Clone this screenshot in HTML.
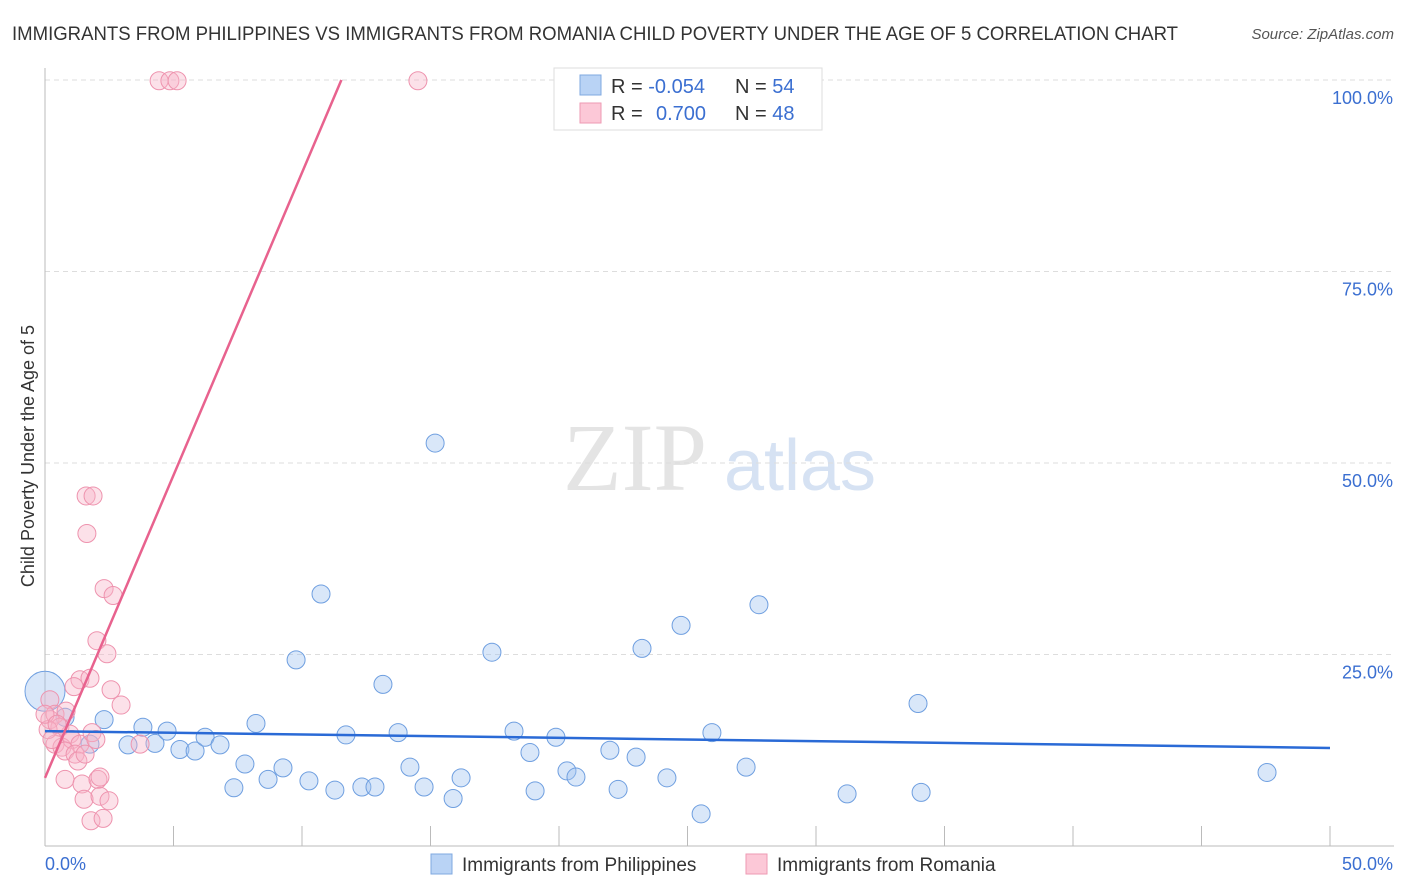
<!DOCTYPE html>
<html><head><meta charset="utf-8"><style>
body{margin:0;background:#fff;font-family:"Liberation Sans",sans-serif;}
svg{display:block}
</style></head><body>
<svg width="1406" height="892" viewBox="0 0 1406 892">
<text x="12" y="40" font-size="19" fill="#333" textLength="1166" lengthAdjust="spacingAndGlyphs">IMMIGRANTS FROM PHILIPPINES VS IMMIGRANTS FROM ROMANIA CHILD POVERTY UNDER THE AGE OF 5 CORRELATION CHART</text>
<text x="1394" y="39" font-size="15" fill="#555" font-style="italic" text-anchor="end">Source: ZipAtlas.com</text>
<g>
<text x="635" y="490" font-size="96" fill="#e4e4e4" font-family="Liberation Serif,serif" text-anchor="middle">ZIP</text>
<text x="800" y="490" font-size="72" fill="#d6e2f3" text-anchor="middle">atlas</text>
</g>
<g id="grid"></g>
<g id="axes"></g>
<g id="marks"></g>
<text x="34" y="456" font-size="18" fill="#333" text-anchor="middle" transform="rotate(-90 34 456)">Child Poverty Under the Age of 5</text>
<g>
<rect x="554" y="68" width="268" height="62" fill="#fff" stroke="#ddd"/>
<rect x="580" y="75" width="21" height="20" fill="#b9d3f5" stroke="#7fa8e0"/>
<rect x="580" y="103" width="21" height="20" fill="#fcc8d7" stroke="#ee9ab3"/>
<text x="611" y="93" font-size="20" fill="#333">R = <tspan fill="#3b6fd1">-0.054</tspan><tspan x="735">N = </tspan><tspan fill="#3b6fd1">54</tspan></text>
<text x="611" y="120" font-size="20" fill="#333">R = <tspan x="656" fill="#3b6fd1">0.700</tspan><tspan x="735">N = </tspan><tspan fill="#3b6fd1">48</tspan></text>
</g>
<g>
<rect x="431" y="854" width="21" height="20" fill="#b9d3f5" stroke="#7fa8e0"/>
<text x="462" y="871" font-size="19" fill="#333">Immigrants from Philippines</text>
<rect x="746" y="854" width="21" height="20" fill="#fcc8d7" stroke="#ee9ab3"/>
<text x="777" y="871" font-size="19" fill="#333">Immigrants from Romania</text>
</g>
</svg>
<script>
const blueX=[0,0.78,2.30,1.75,3.23,3.81,4.28,4.75,5.25,5.84,6.23,6.81,7.35,7.78,8.21,8.68,9.26,9.77,10.27,10.74,11.28,11.71,12.33,12.84,13.15,13.74,14.20,14.75,15.18,15.88,16.19,17.39,18.25,18.87,19.07,19.88,20.31,20.66,21.98,22.30,23.00,23.23,24.20,24.75,25.53,25.95,27.28,27.78,31.21,33.97,34.09,47.55];
const blueY=[20.2,16.8,16.5,13.3,13.2,15.5,13.4,15.0,12.6,12.4,14.2,13.2,7.6,10.7,16.0,8.7,10.2,24.3,8.5,32.9,7.3,14.5,7.7,7.7,21.1,14.8,10.3,7.7,52.6,6.2,8.9,25.3,15.0,12.2,7.2,14.2,9.8,9.0,12.5,7.4,11.6,25.8,8.9,28.8,4.2,14.8,10.3,31.5,6.8,18.6,7.0,9.6];
const pinkX=[4.44,4.86,5.14,14.51,1.60,1.87,1.63,2.30,2.65,2.02,2.41,1.36,1.13,1.75,2.57,2.96,0.19,0.19,0.39,0.82,0.58,0.97,0.39,0.66,1.05,1.36,1.83,1.98,0.78,1.17,1.28,0.12,3.70,0.78,1.44,2.06,2.14,1.52,2.14,2.49,1.79,2.26,0.27,0,0.47,1.56];
const pinkY=[99.9,99.9,99.9,99.9,45.7,45.7,40.8,33.6,32.7,26.8,25.1,21.7,20.8,21.9,20.4,18.4,19.1,16.5,17.2,17.6,15.5,14.6,13.3,12.9,13.9,13.3,14.8,13.9,12.4,12.0,11.1,15.2,13.3,8.7,8.1,8.7,9.0,6.1,6.5,5.9,3.3,3.6,13.9,17.2,15.9,12.0];
const blueTrend=[15.0,12.8];
const pinkTrend=[8.9,7.9];
const yTicks=[25,50,75,100];
const yTickLabels=["25.0%","50.0%","75.0%","100.0%"];
const xTicks=[0,5,10,15,20,25,30,35,40,45,50];

const NS="http://www.w3.org/2000/svg";
const X0=45,X1=1330,Y0=846,Y100=80;
const sx=v=>X0+(X1-X0)*v/50;
const sy=v=>Y0-(Y0-Y100)*v/100;
function mk(t,a,p){const e=document.createElementNS(NS,t);for(const k in a)e.setAttribute(k,a[k]);p.appendChild(e);return e;}
const grid=document.getElementById('grid'),axes=document.getElementById('axes'),marks=document.getElementById('marks');
yTicks.forEach((t,i)=>{
 const l=mk('line',{x1:X0,x2:1394,y1:sy(t),y2:sy(t),stroke:'#ddd','stroke-dasharray':'5,4'},grid);
 
 
 const tx=mk('text',{x:1393,y:sy(t)+24,'font-size':18,fill:'#3b6fd1','text-anchor':'end'},axes);
 tx.textContent=yTickLabels[i];
 
 
});
const ya=mk('line',{x1:X0,x2:X0,y1:68,y2:Y0,stroke:'#bbb'},axes);


const xa=mk('line',{x1:X0,x2:1394,y1:Y0,y2:Y0,stroke:'#bbb'},axes);


xTicks.forEach(t=>{
 const l=mk('line',{x1:sx(t),x2:sx(t),y1:826,y2:Y0,stroke:'#bbb'},axes);
 
 
});
const xl0=mk('text',{x:45,y:870,'font-size':18,fill:'#3b6fd1'},axes);xl0.textContent='0.0%';


const xl1=mk('text',{x:1393,y:870,'font-size':18,fill:'#3b6fd1','text-anchor':'end'},axes);xl1.textContent='50.0%';



blueX.forEach((x,i)=>{
 const c=mk('circle',{cx:sx(x),cy:sy(blueY[i]),r:i==0?20:9,fill:'rgba(160,195,240,0.4)',stroke:'#6f9fe0','stroke-width':1},marks);
 
 
});
pinkX.forEach((x,i)=>{
 const c=mk('circle',{cx:sx(x),cy:sy(pinkY[i]),r:9,fill:'rgba(248,180,200,0.4)',stroke:'#ee93ae','stroke-width':1},marks);
 
 
});
const bt=mk('line',{x1:sx(0),y1:sy(blueTrend[0]),x2:sx(50),y2:sy(blueTrend[1]),stroke:'#2a6ad6','stroke-width':2.5},marks);


const pxEnd=(100-pinkTrend[0])/pinkTrend[1];
const pt=mk('line',{x1:sx(0),y1:sy(pinkTrend[0]),x2:sx(pxEnd),y2:sy(100),stroke:'#e8628e','stroke-width':2.5},marks);


</script>
</body></html>
